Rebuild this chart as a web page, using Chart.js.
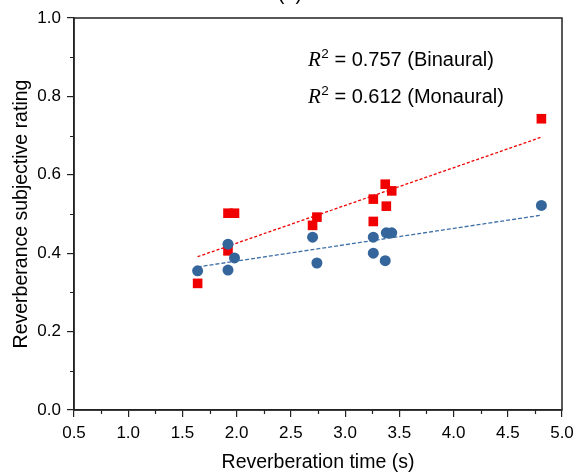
<!DOCTYPE html>
<html>
<head>
<meta charset="utf-8">
<script src="https://cdn.jsdelivr.net/npm/chart.js@4"></script>
<style>
  html, body { margin: 0; padding: 0; background: #fff; }
  #wrap { width: 576px; height: 474px; }
</style>
</head>
<body>
<div id="wrap"><canvas id="rtChart" width="576" height="474"></canvas></div>
<script>
// reverberation time (s) and subjective ratings
const rtBinaural = [1.64, 1.92, 1.92, 1.98, 2.70, 2.74, 3.26, 3.26, 3.37, 3.38, 3.43, 4.81];
const ratingBinaural = [0.323, 0.406, 0.502, 0.502, 0.471, 0.492, 0.538, 0.481, 0.576, 0.520, 0.559, 0.743];
const rtMonaural = [1.64, 1.92, 1.92, 1.98, 2.70, 2.74, 3.26, 3.26, 3.37, 3.38, 3.43, 4.81];
const ratingMonaural = [0.355, 0.423, 0.357, 0.388, 0.441, 0.375, 0.441, 0.400, 0.381, 0.452, 0.452, 0.522];

// linear fit end points
const fitX = [1.64, 4.81];
const fitBinaural = [0.391, 0.696];
const fitMonaural = [0.365, 0.497];

const fitLabels = [
  ['0.757', 'Binaural'],
  ['0.612', 'Monaural']
];

const xTicks = [0.5, 1.0, 1.5, 2.0, 2.5, 3.0, 3.5, 4.0, 4.5, 5.0];
const yTicks = [0.0, 0.2, 0.4, 0.6, 0.8, 1.0];

const RED = 'rgb(240,0,0)';
const BLUE = '#34659b';
const AXIS = '#222';
const SANS = '"Liberation Sans", Arial, sans-serif';

const toPoints = (xs, ys) => xs.map((x, i) => ({ x: x, y: ys[i] }));

// box around the plot, minor ticks, R² notes and panel letter
const extras = {
  id: 'extras',
  afterDraw(chart) {
    const { ctx, chartArea: a, scales: { x, y } } = chart;
    ctx.save();
    ctx.strokeStyle = AXIS;
    ctx.lineWidth = 1.5;
    ctx.strokeRect(a.left, a.top, a.right - a.left, a.bottom - a.top);

    ctx.lineWidth = 1.2;
    ctx.beginPath();
    for (let i = 0; i < xTicks.length - 1; i++) {
      const px = Math.round(x.getPixelForValue((xTicks[i] + xTicks[i + 1]) / 2)) + 0.5;
      ctx.moveTo(px, a.bottom);
      ctx.lineTo(px, a.bottom + 4);
    }
    for (let i = 0; i < yTicks.length - 1; i++) {
      const py = Math.round(y.getPixelForValue((yTicks[i] + yTicks[i + 1]) / 2)) + 0.5;
      ctx.moveTo(a.left, py);
      ctx.lineTo(a.left - 4, py);
    }
    ctx.stroke();

    ctx.fillStyle = '#000';
    ctx.textBaseline = 'alphabetic';
    fitLabels.forEach((f, i) => {
      let tx = 308;
      const ty = 66 + i * 37;
      ctx.font = 'italic 21px "Liberation Serif", "Times New Roman", serif';
      ctx.fillText('R', tx, ty);
      tx += ctx.measureText('R').width + 0.5;
      ctx.font = '13.5px ' + SANS;
      ctx.fillText('2', tx, ty - 8);
      tx += ctx.measureText('2').width;
      ctx.font = '20px ' + SANS;
      ctx.fillText(' = ' + f[0] + ' (' + f[1] + ')', tx, ty);
    });

    ctx.font = '20px ' + SANS;
    ctx.textAlign = 'center';
    ctx.fillText('(b)', 290, -0.5);
    ctx.restore();
  }
};

new Chart(document.getElementById('rtChart'), {
  type: 'scatter',
  data: {
    datasets: [
      {
        label: 'Monaural',
        data: toPoints(rtMonaural, ratingMonaural),
        backgroundColor: BLUE,
        borderColor: BLUE,
        pointStyle: 'circle',
        pointRadius: 5.5,
        borderWidth: 0,
        order: 1
      },
      {
        label: 'Binaural',
        data: toPoints(rtBinaural, ratingBinaural),
        backgroundColor: RED,
        borderColor: RED,
        pointStyle: 'rect',
        pointRadius: 6.8,
        borderWidth: 0,
        order: 2
      },
      {
        label: 'Binaural fit',
        data: toPoints(fitX, fitBinaural),
        showLine: true,
        borderColor: RED,
        borderWidth: 1.3,
        borderDash: [3, 2],
        pointRadius: 0,
        order: 3
      },
      {
        label: 'Monaural fit',
        data: toPoints(fitX, fitMonaural),
        showLine: true,
        borderColor: '#3d6fa5',
        borderWidth: 1.3,
        borderDash: [4, 2],
        pointRadius: 0,
        order: 4
      }
    ]
  },
  options: {
    responsive: false,
    animation: false,
    layout: { padding: { top: 18, right: 0, left: 0, bottom: 0 } },
    plugins: {
      legend: { display: false },
      tooltip: { enabled: false }
    },
    scales: {
      x: {
        type: 'linear',
        min: 0.5,
        max: 5.0,
        afterBuildTicks: (s) => { s.ticks = xTicks.map(v => ({ value: v })); },
        afterFit: (s) => { s.height = 64; s.paddingRight = 14; s.paddingLeft = 0; },
        grid: { display: true, drawOnChartArea: false, drawTicks: true, tickLength: 7, color: AXIS, lineWidth: 1.2 },
        border: { display: true, color: AXIS, width: 1.5 },
        ticks: {
          color: '#000',
          padding: 6,
          maxRotation: 0,
          font: { family: SANS, size: 17 },
          callback: (v) => v.toFixed(1)
        },
        title: {
          display: true,
          text: 'Reverberation time (s)',
          color: '#000',
          font: { family: SANS, size: 19.5 },
          padding: { top: 0, bottom: 0 }
        }
      },
      y: {
        type: 'linear',
        min: 0,
        max: 1.0,
        afterBuildTicks: (s) => { s.ticks = yTicks.map(v => ({ value: v })); },
        afterFit: (s) => { s.width = 74; },
        grid: { display: true, drawOnChartArea: false, drawTicks: true, tickLength: 7, color: AXIS, lineWidth: 1.2 },
        border: { display: true, color: AXIS, width: 1.5 },
        ticks: {
          color: '#000',
          padding: 6,
          font: { family: SANS, size: 17 },
          callback: (v) => v.toFixed(1)
        },
        title: {
          display: true,
          text: 'Reverberance subjective rating',
          color: '#000',
          font: { family: SANS, size: 19.5 },
          padding: { top: 10, bottom: 0 }
        }
      }
    }
  },
  plugins: [extras]
});
</script>
</body>
</html>
